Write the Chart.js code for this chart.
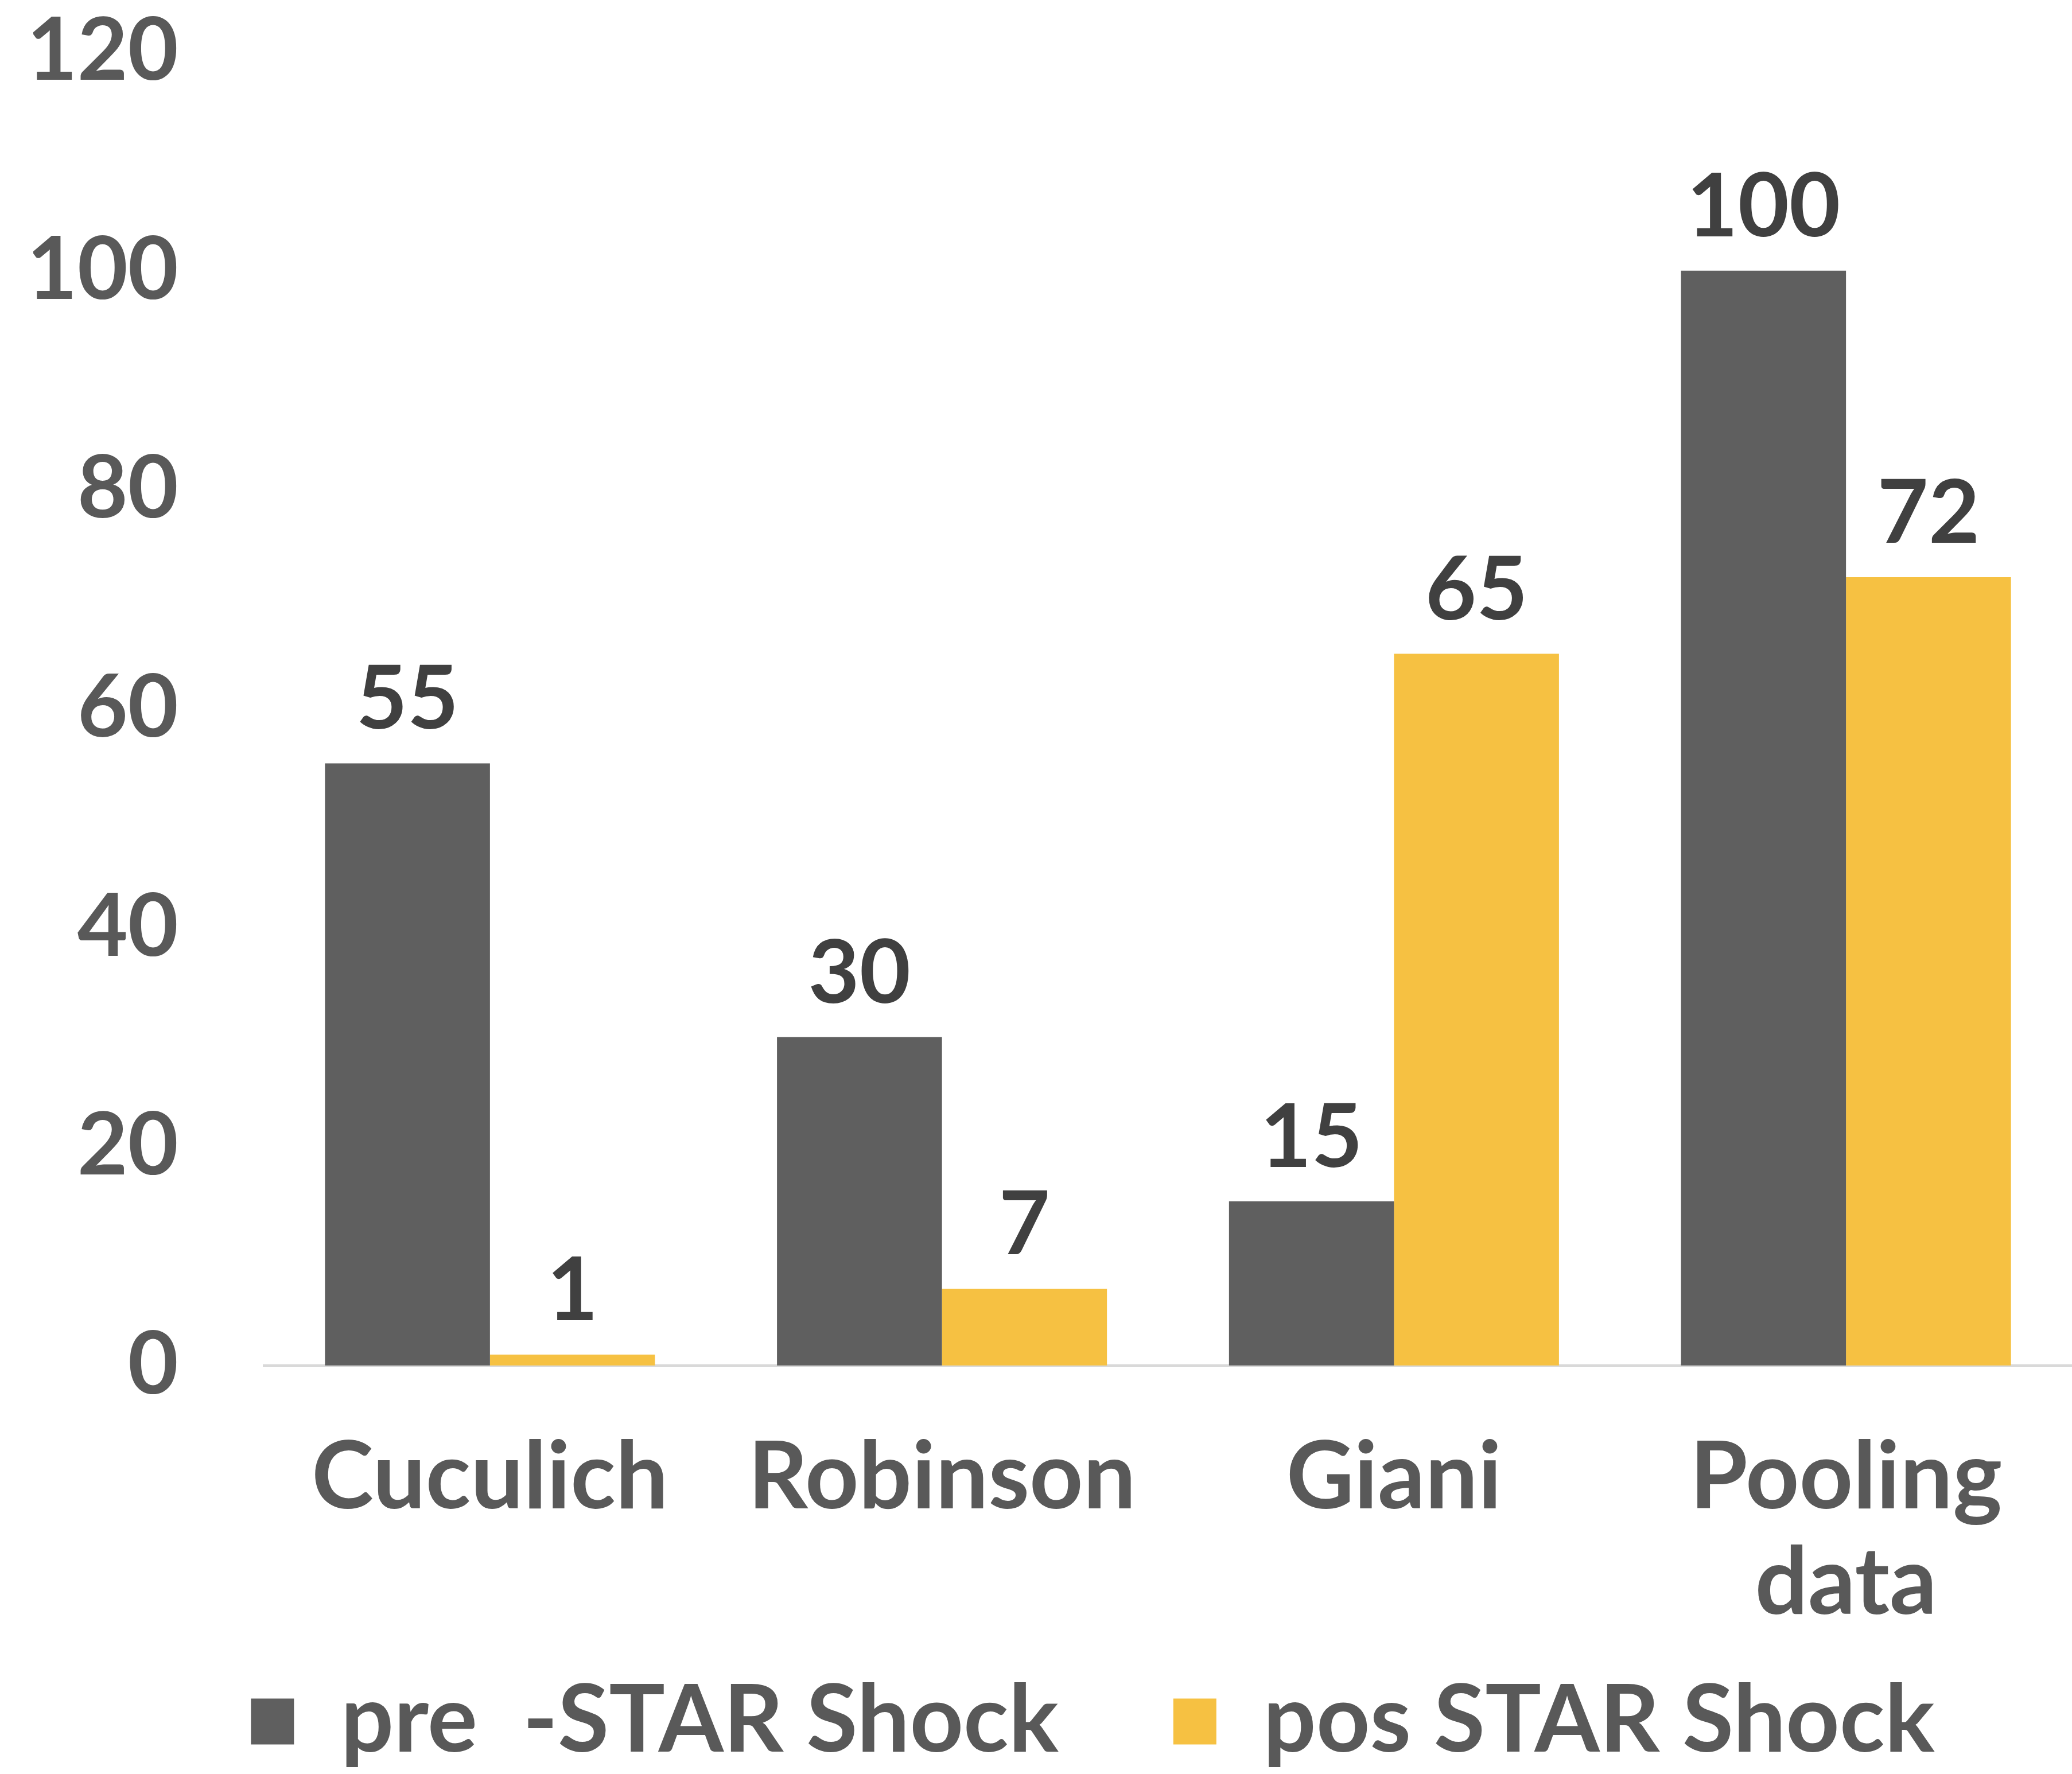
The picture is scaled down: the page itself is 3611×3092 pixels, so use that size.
<!DOCTYPE html>
<html>
<head>
<meta charset="utf-8">
<script src="https://cdn.jsdelivr.net/npm/chart.js@4.4.0/dist/chart.umd.min.js"></script>
<style>
  html, body { margin: 0; padding: 0; background: #fff; }
  canvas { display: block; }
</style>
</head>
<body>
<canvas id="chart" width="3611" height="3092"></canvas>
<script>
// chart data
const categories = ["Cuculich", "Robinson", "Giani", ["Pooling", "data"]];
const preValues = [55, 30, 15, 100];
const posValues = [1, 7, 65, 72];
const seriesNames = ["pre  -STAR Shock", "pos STAR Shock"];
const yTicks = [0, 20, 40, 60, 80, 100, 120];

const colors = {
  dark: "#5f5f5f",
  yellow: "#f6c142",
  tick: "#595959",
  label: "#404040",
  axis: "#d9d9d9"
};

const FONT = "Lato, 'Open Sans', sans-serif";

// value labels above each bar
const valueLabels = {
  id: "valueLabels",
  afterDatasetsDraw(chart) {
    const ctx = chart.ctx;
    ctx.save();
    ctx.font = "bold 154px " + FONT;
    ctx.fillStyle = colors.label;
    ctx.textAlign = "center";
    ctx.textBaseline = "alphabetic";
    chart.data.datasets.forEach((ds, i) => {
      chart.getDatasetMeta(i).data.forEach((bar, j) => {
        ctx.fillText(ds.data[j], bar.x, bar.y - 60);
      });
    });
    ctx.restore();
  }
};

// x labels may run down into the legend band, so widen their clip box;
// nudge the legend a bit right like the original
const layoutTweaks = {
  id: "layoutTweaks",
  afterLayout(chart) {
    chart.scales.x.bottom = chart.height;
    chart.legend.left += 70;
    chart.legend.right += 70;
  }
};

new Chart(document.getElementById("chart"), {
  type: "bar",
  data: {
    labels: categories,
    datasets: [
      {
        label: seriesNames[0],
        data: preValues,
        backgroundColor: colors.dark,
        categoryPercentage: 0.73,
        barPercentage: 1.0
      },
      {
        label: seriesNames[1],
        data: posValues,
        backgroundColor: colors.yellow,
        categoryPercentage: 0.73,
        barPercentage: 1.0
      }
    ]
  },
  options: {
    responsive: false,
    animation: false,
    devicePixelRatio: 1,
    layout: { padding: { left: 58, top: 90, right: 0, bottom: 0 } },
    plugins: {
      tooltip: { enabled: false },
      legend: {
        position: "bottom",
        labels: {
          font: { family: FONT, size: 163, weight: "bold" },
          color: colors.tick,
          boxWidth: 75,
          boxHeight: 80,
          padding: 200
        }
      }
    },
    scales: {
      x: {
        grid: { display: false, drawTicks: false },
        border: { display: true, color: colors.axis, width: 5 },
        ticks: {
          font: { family: FONT, size: 163, weight: "bold", lineHeight: 1.13 },
          color: colors.tick,
          padding: 104,
          maxRotation: 0,
          autoSkip: false
        },
        afterFit(axis) {
          axis.height = 339;
          axis.paddingLeft = 0;
          axis.paddingRight = 0;
        }
      },
      y: {
        min: 0,
        max: 120,
        afterBuildTicks(axis) {
          axis.ticks = yTicks.map(v => ({ value: v }));
        },
        grid: { display: false, drawTicks: false },
        border: { display: false },
        ticks: {
          font: { family: FONT, size: 152, weight: "bold" },
          color: colors.tick,
          padding: 149
        },
        afterFit(axis) {
          axis.width = 402;
          axis.paddingTop = 0;
          axis.paddingBottom = 0;
        }
      }
    }
  },
  plugins: [valueLabels, layoutTweaks]
});
</script>
</body>
</html>
